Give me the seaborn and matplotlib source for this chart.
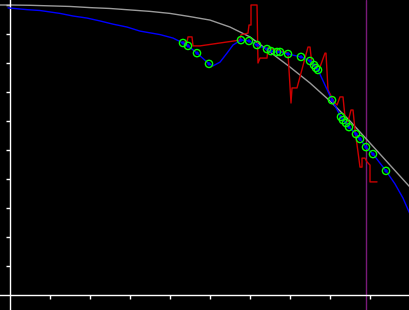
import matplotlib
matplotlib.use("Agg")
import matplotlib.pyplot as plt
import seaborn as sns
import pandas as pd

# Reference (gray) curve
gray_x = [-0.25, 0.0, 0.5, 1.0, 1.5, 2.0, 2.5, 3.0, 3.5, 4.0, 4.5, 5.0, 5.5, 6.0, 6.5,
          7.0, 7.5, 8.0, 8.5, 9.0, 9.5, 10.0]
gray_y = [10.0, 10.0, 9.99, 9.97, 9.95, 9.91, 9.88, 9.83, 9.78, 9.71, 9.60, 9.48, 9.24,
          8.90, 8.38, 7.86, 7.31, 6.69, 6.00, 5.24, 4.48, 3.72]

# Blue fitted curve
blue_x = [-0.05, 0.425, 0.75, 1.25, 1.575, 1.925, 2.25, 2.575, 2.925, 3.25, 3.75, 4.075,
          4.325, 4.45, 4.675, 4.975, 5.075, 5.25, 5.425, 5.575, 5.775, 5.975, 6.175, 6.425,
          6.525, 6.675, 6.75, 6.95, 7.275, 7.5, 7.6, 7.65, 7.7, 8.05, 8.275, 8.325, 8.4,
          8.475, 8.65, 8.75, 8.9, 9.075, 9.4, 9.625, 9.825, 10.0]
blue_y = [9.90, 9.84, 9.81, 9.71, 9.62, 9.55, 9.45, 9.34, 9.24, 9.10, 8.98, 8.86,
          8.69, 8.59, 8.34, 7.97, 7.90, 8.03, 8.34, 8.62, 8.79, 8.76, 8.62, 8.48,
          8.41, 8.38, 8.38, 8.31, 8.21, 8.07, 7.93, 7.83, 7.76, 6.72, 6.14, 6.03, 5.93,
          5.79, 5.55, 5.38, 5.10, 4.86, 4.28, 3.83, 3.34, 2.79]

# Red raw trace
red_x = [4.325, 4.425, 4.45, 4.55, 4.575, 4.75, 5.75, 5.775, 5.95, 5.975, 6.025, 6.025,
         6.175, 6.2, 6.25, 6.425, 6.45, 6.95, 7.025, 7.05, 7.175, 7.45, 7.5, 7.55, 7.65,
         7.75, 7.875, 7.9, 7.95, 8.1, 8.175, 8.25, 8.325, 8.375, 8.45, 8.525, 8.575,
         8.625, 8.7, 8.75, 8.8, 8.8, 8.875, 8.925, 9.0, 9.0, 9.175]
red_y = [8.72, 8.72, 8.90, 8.90, 8.59, 8.59, 8.79, 8.97, 9.03, 9.31, 9.31, 10.0,
         10.0, 8.0, 8.17, 8.17, 8.52, 8.34, 6.62, 7.14, 7.14, 8.55, 8.55, 7.93, 7.93,
         7.86, 8.34, 8.34, 7.07, 6.66, 6.55, 6.83, 6.83, 6.14, 5.97, 6.38, 6.38,
         5.69, 4.93, 4.41, 4.41, 4.72, 4.72, 4.59, 4.48, 3.90, 3.90]

# Observed points (green circles)
pt_x = [4.325, 4.45, 4.675, 4.975, 5.775, 5.975, 6.175, 6.425, 6.525, 6.675, 6.75, 6.95,
        7.275, 7.5, 7.6, 7.65, 7.7, 8.05, 8.275, 8.325, 8.4, 8.475, 8.65, 8.75, 8.9,
        9.075, 9.4]
pt_y = [8.69, 8.59, 8.34, 7.97, 8.79, 8.76, 8.62, 8.48, 8.41, 8.38, 8.38, 8.31,
        8.21, 8.07, 7.93, 7.83, 7.76, 6.72, 6.14, 6.03, 5.93, 5.79, 5.55, 5.38, 5.10,
        4.86, 4.28]

vline_x = 8.9
x_ticks = [1, 2, 3, 4, 5, 6, 7, 8, 9]
y_ticks = [1, 2, 3, 4, 5, 6, 7, 8, 9, 10]

sns.set_style("dark", {"axes.facecolor": "black", "figure.facecolor": "black"})

fig = plt.figure(figsize=(4.1, 3.1), dpi=100)
ax = fig.add_axes([0, 0, 1, 1])
ax.set_facecolor("black")

gray_df = pd.DataFrame({"x": gray_x, "y": gray_y})
blue_df = pd.DataFrame({"x": blue_x, "y": blue_y})
red_df = pd.DataFrame({"x": red_x, "y": red_y})
pt_df = pd.DataFrame({"x": pt_x, "y": pt_y})

ax.axvline(vline_x, color="#7a1a7a", lw=1.0, zorder=1)
sns.lineplot(data=gray_df, x="x", y="y", sort=False, estimator=None, ax=ax,
             color="#9a9a9a", lw=1.0, zorder=2)
sns.lineplot(data=red_df, x="x", y="y", sort=False, estimator=None, ax=ax,
             color="#cc0000", lw=1.0, zorder=3)
sns.lineplot(data=blue_df, x="x", y="y", sort=False, estimator=None, ax=ax,
             color="#0000ff", lw=1.0, zorder=4)
sns.scatterplot(data=pt_df, x="x", y="y", ax=ax, s=6, color="#0000ff",
                edgecolor="none", zorder=5)
sns.scatterplot(data=pt_df, x="x", y="y", ax=ax, s=27, facecolor="none",
                edgecolor="#00ff00", linewidth=1.0, zorder=6)

ax.set_xlim(-0.25, 10.0)
ax.set_ylim(-15 / 29, 295 / 29)
ax.set_xticks(x_ticks)
ax.set_yticks(y_ticks)
ax.set_xticklabels([])
ax.set_yticklabels([])
ax.set_xlabel("")
ax.set_ylabel("")
ax.grid(False)
for s in ["top", "right"]:
    ax.spines[s].set_visible(False)
for s in ["left", "bottom"]:
    ax.spines[s].set_visible(True)
    ax.spines[s].set_color("white")
    ax.spines[s].set_linewidth(1.0)
    ax.spines[s].set_position(("data", 0))
ax.tick_params(axis="both", direction="out", length=3, width=1, color="white",
               bottom=True, left=True)

fig.savefig("out.png", dpi=100, facecolor="black")
